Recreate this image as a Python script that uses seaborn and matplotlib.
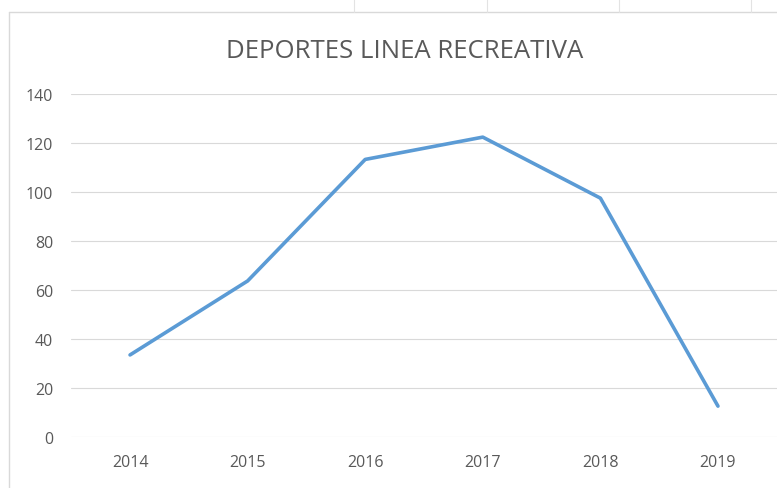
import matplotlib
matplotlib.use("Agg")
import matplotlib.pyplot as plt
from matplotlib.lines import Line2D
import pandas as pd
import seaborn as sns

years = ["2014", "2015", "2016", "2017", "2018", "2019"]
values = [33.5, 63.7, 113.3, 122.4, 97.5, 12.6]
y_ticks = [0, 20, 40, 60, 80, 100, 120, 140]

df = pd.DataFrame({"year": years, "value": values})

sns.set_style("white")
plt.rcParams["font.family"] = ["Open Sans", "DejaVu Sans"]

fig = plt.figure(figsize=(7.77, 4.89), dpi=100)
ax = fig.add_axes([0.0917, 0.1043, 0.908, 0.7014])

sns.lineplot(data=df, x="year", y="value", ax=ax, color="#5B9BD5",
             linewidth=2.6, solid_capstyle="round", sort=False)

ax.set_xlim(-0.5, len(years) - 0.5)
ax.set_ylim(0, 140)
ax.set_yticks(y_ticks)
ax.yaxis.grid(True, color="#D9D9D9", linewidth=0.8)
ax.set_axisbelow(True)
for s in ax.spines.values():
    s.set_visible(False)
ax.tick_params(axis="both", length=0, labelsize=11.5, labelcolor="#595959")
ax.tick_params(axis="y", pad=13)
ax.tick_params(axis="x", pad=12)
ax.set_xlabel("")
ax.set_ylabel("")

fig.text(0.521, 0.895, "DEPORTES LINEA RECREATIVA", ha="center", va="center",
         fontsize=18.5, color="#595959")

# chart frame / sheet edges
fig.add_artist(Line2D([0.011, 0.011], [0.0, 0.974], color="#D9D9D9", lw=1))
fig.add_artist(Line2D([0.011, 1.0], [0.974, 0.974], color="#D9D9D9", lw=1))
for x in [0.455, 0.627, 0.797, 0.966]:
    fig.add_artist(Line2D([x, x], [0.974, 1.0], color="#E3E3E3", lw=0.8))

fig.savefig("out.png", dpi=100)
